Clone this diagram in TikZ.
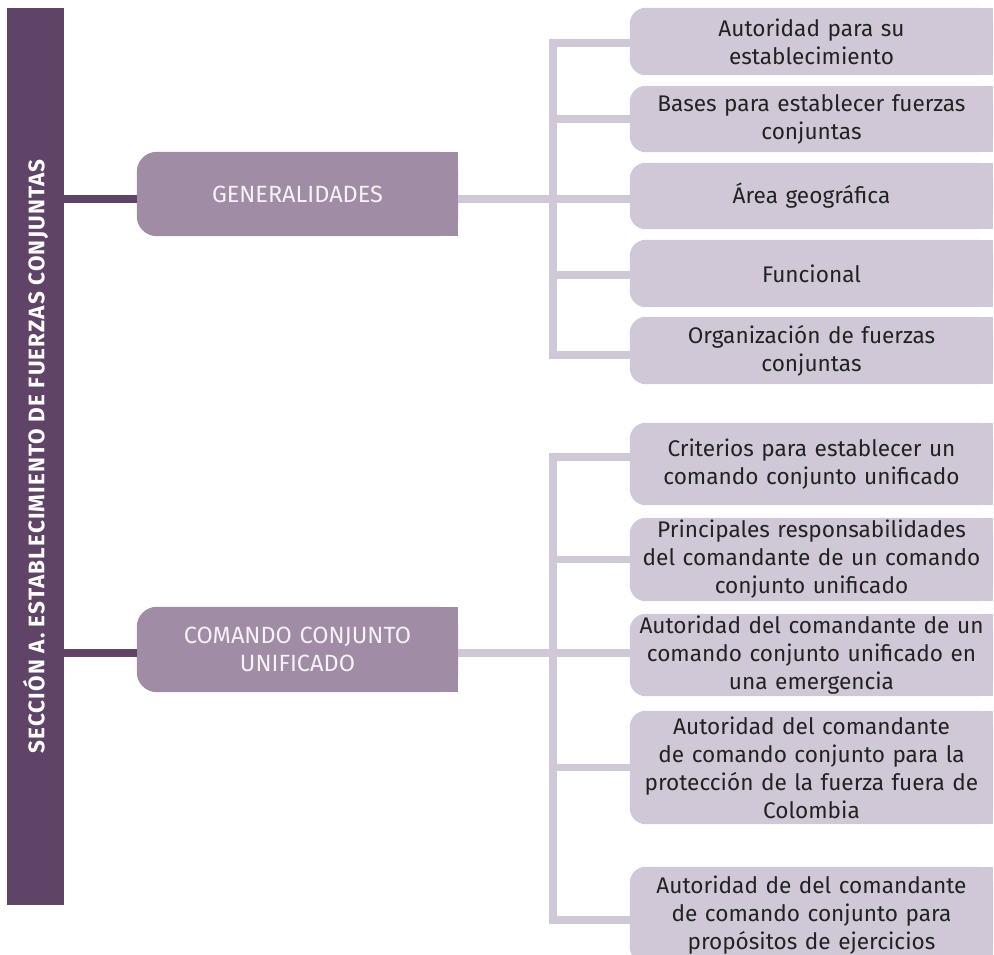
\documentclass[tikz,border=0pt]{standalone}
\usepackage{fontspec}
\setmainfont{Fira Sans}
\newfontfamily\titlefont[LetterSpace=5]{Fira Sans}
\usetikzlibrary{backgrounds}
\definecolor{barc}{HTML}{5F4468}
\definecolor{mainc}{HTML}{A08DA5}
\definecolor{litec}{HTML}{D0C8D6}
\definecolor{txtc}{HTML}{222222}
\definecolor{wtxt}{HTML}{F6F2F7}
\newcommand\lrfill[3]{%
  \fill[#3, rounded corners=#2] (#1.south west) rectangle (#1.north east);
  \fill[#3] (#1.south) rectangle (#1.north east);}
\begin{document}
\begin{tikzpicture}[x=1pt,y=-1pt,
  leaf/.style={minimum width=363pt, text width=362pt, align=center, inner sep=0pt,
    text=txtc, font=\fontsize{22.6}{28}\selectfont},
  mainbox/.style={minimum width=321pt, text width=315pt, align=center, inner sep=0pt,
    text=wtxt, font=\fontsize{23.5}{28}\selectfont},
  darkline/.style={draw=barc, line width=8pt},
  liteline/.style={draw=litec, line width=7.5pt},
]
\useasboundingbox (0,0) rectangle (994,955);
\clip (0,0) rectangle (994,955);

% title bar
\node[fill=barc, rotate=90, minimum width=897pt, minimum height=57pt, inner sep=0pt,
  text=white, font=\titlefont\bfseries\fontsize{22.5}{26}\selectfont] (bar) at (35.5,456.5)
  {SECCIÓN A. ESTABLECIMIENTO DE FUERZAS CONJUNTAS};

% main boxes
\node[mainbox, minimum height=84pt] (gen) at (297.5,194) {GENERALIDADES};
\node[mainbox, minimum height=85pt] (com) at (297.5,649.5) {COMANDO CONJUNTO\\UNIFICADO};

% top leaves
\node[leaf, minimum height=67pt] (a1) at (811.5,41.5) {Autoridad para su\\establecimiento};
\node[leaf, minimum height=66pt] (a2) at (811.5,119) {Bases para establecer fuerzas\\conjuntas};
\node[leaf, minimum height=66pt] (a3) at (811.5,196) {Área geográfica};
\node[leaf, minimum height=67pt] (a4) at (811.5,273.5) {Funcional};
\node[leaf, minimum height=67pt] (a5) at (811.5,350.5) {Organización de fuerzas\\conjuntas};

% bottom leaves
\node[leaf, minimum height=82pt] (b1) at (811.5,464) {Criterios para establecer un\\comando conjunto unificado};
\node[leaf, minimum height=83pt] (b2) at (811.5,559.5) {Principales responsabilidades\\del comandante de un comando\\conjunto unificado};
\node[leaf, minimum height=82pt] (b3) at (811.5,655) {Autoridad del comandante de un\\comando conjunto unificado en\\una emergencia};
\node[leaf, minimum height=113pt] (b4) at (811.5,767.5) {Autoridad del comandante\\de comando conjunto para la\\protección de la fuerza fuera de\\Colombia};
\node[leaf, minimum height=96pt] (b5) at (811.5,915) {Autoridad de del comandante\\de comando conjunto para\\propósitos de ejercicios};

\coordinate (jA) at (553,0);

\begin{scope}[on background layer]
  \lrfill{gen}{20pt}{mainc}
  \lrfill{com}{20pt}{mainc}
  \foreach \n in {a1,a2,a3,a4,a5,b1,b2,b3,b4,b5} {\lrfill{\n}{16pt}{litec}}

  % dark connectors from the title bar
  \coordinate (g0) at ([yshift=-5pt]gen.west);
  \coordinate (c0) at ([yshift=-3.5pt]com.west);
  \draw[darkline] (g0) -- (g0 -| bar.south);
  \draw[darkline] (c0) -- (c0 -| bar.south);

  % top bracket
  \coordinate (g1) at ([yshift=-5pt]gen.east);
  \coordinate (pa1) at ([yshift=-1.5pt]a1.west);
  \coordinate (pa2) at (a2.west);
  \coordinate (pa4) at ([yshift=-1.5pt]a4.west);
  \coordinate (pa5) at ([yshift=-4.5pt]a5.west);
  \draw[liteline] (g1) -- (g1 -| a3.west);
  \draw[liteline] (pa1) -- (pa1 -| jA) -- (pa5 -| jA) -- (pa5);
  \draw[liteline] (pa2 -| jA) -- (pa2);
  \draw[liteline] (pa4 -| jA) -- (pa4);

  % bottom bracket
  \coordinate (c1) at ([yshift=-3.5pt]com.east);
  \coordinate (pb1) at ([yshift=7pt]b1.west);
  \coordinate (pb2) at (b2.west);
  \coordinate (pb4) at (b4.west);
  \coordinate (pb5) at ([yshift=-5pt]b5.west);
  \draw[liteline] (c1) -- (c1 -| b3.west);
  \draw[liteline] (pb1) -- (pb1 -| jA) -- (pb5 -| jA) -- (pb5);
  \draw[liteline] (pb2 -| jA) -- (pb2);
  \draw[liteline] (pb4 -| jA) -- (pb4);
\end{scope}
\end{tikzpicture}
\end{document}
